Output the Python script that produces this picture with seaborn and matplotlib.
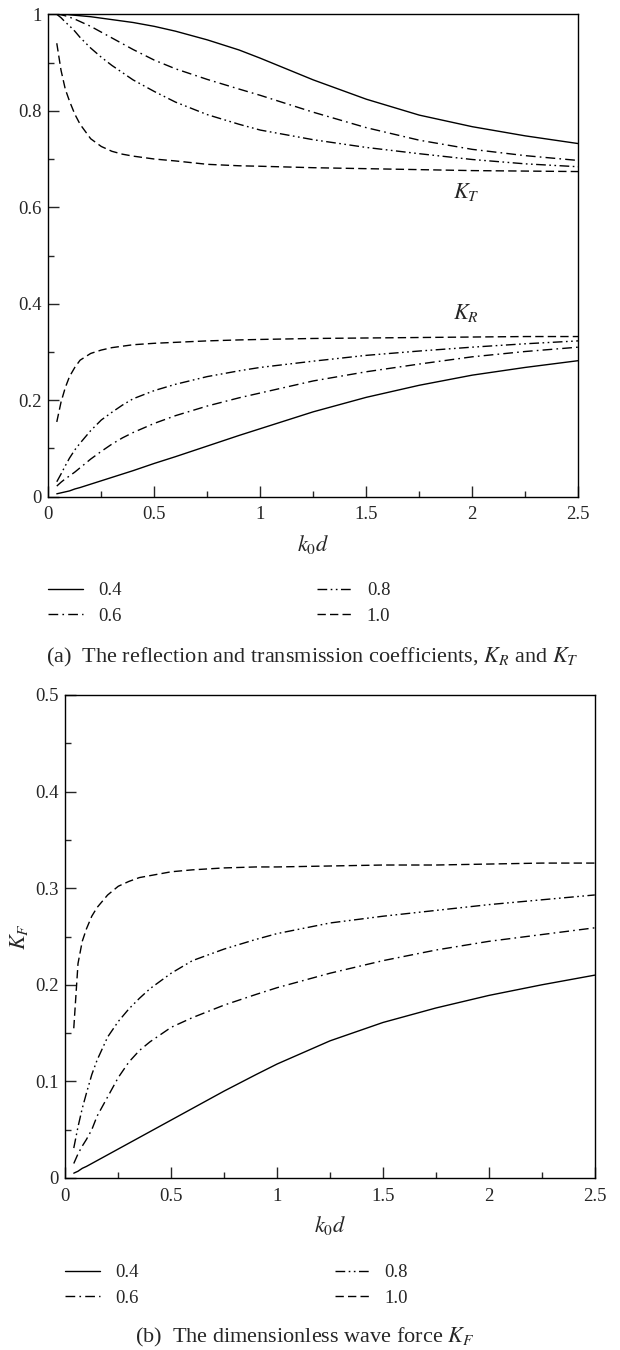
import numpy as np
import pandas as pd
import matplotlib
matplotlib.use("Agg")
import matplotlib.pyplot as plt
from matplotlib.ticker import MultipleLocator, FuncFormatter
from matplotlib.lines import Line2D
import seaborn as sns

# ---------------- data ----------------
k0d = [0.04, 0.06, 0.08, 0.1, 0.125, 0.15, 0.2, 0.25, 0.3, 0.35, 0.4, 0.5,
       0.6, 0.75, 0.9, 1.0, 1.25, 1.5, 1.75, 2.0, 2.25, 2.5]
params = ["0.4", "0.6", "0.8", "1.0"]

KT_04 = [1.0, 1.0, 1.0, 0.999, 0.998, 0.997, 0.995, 0.992, 0.989, 0.986, 0.983,
         0.975, 0.965, 0.947, 0.926, 0.909, 0.864, 0.824, 0.791, 0.767, 0.748, 0.732]
KT_06 = [1.0, 0.999, 0.997, 0.994, 0.99, 0.985, 0.975, 0.963, 0.951, 0.939, 0.927,
         0.905, 0.887, 0.865, 0.845, 0.832, 0.797, 0.765, 0.739, 0.72, 0.707, 0.697]
KT_08 = [1.0, 0.993, 0.984, 0.976, 0.965, 0.952, 0.93, 0.911, 0.894, 0.879, 0.864,
         0.84, 0.818, 0.792, 0.772, 0.76, 0.74, 0.724, 0.711, 0.699, 0.69, 0.684]
KT_10 = [0.94, 0.884, 0.845, 0.82, 0.793, 0.772, 0.742, 0.726, 0.716, 0.71, 0.706,
         0.70, 0.696, 0.689, 0.686, 0.685, 0.682, 0.68, 0.678, 0.676, 0.675, 0.674]

KR_04 = [0.006, 0.008, 0.01, 0.012, 0.016, 0.019, 0.026, 0.033, 0.04, 0.047, 0.054,
         0.069, 0.083, 0.105, 0.127, 0.141, 0.176, 0.206, 0.231, 0.252, 0.268, 0.282]
KR_06 = [0.022, 0.03, 0.037, 0.043, 0.051, 0.06, 0.078, 0.094, 0.109, 0.122, 0.133,
         0.152, 0.168, 0.188, 0.205, 0.215, 0.24, 0.259, 0.275, 0.29, 0.301, 0.31]
KR_08 = [0.031, 0.047, 0.064, 0.08, 0.097, 0.111, 0.137, 0.159, 0.175, 0.19, 0.203,
         0.22, 0.233, 0.249, 0.261, 0.268, 0.281, 0.293, 0.302, 0.31, 0.317, 0.323]
KR_10 = [0.155, 0.196, 0.226, 0.249, 0.268, 0.283, 0.297, 0.304, 0.309, 0.312, 0.315,
         0.318, 0.32, 0.323, 0.325, 0.326, 0.328, 0.329, 0.33, 0.331, 0.332, 0.332]

KF_04 = [0.005, 0.007, 0.01, 0.012, 0.015, 0.018, 0.024, 0.03, 0.036, 0.042, 0.048,
         0.06, 0.072, 0.09, 0.107, 0.118, 0.142, 0.161, 0.176, 0.189, 0.2, 0.21]
KF_06 = [0.015, 0.025, 0.033, 0.04, 0.05, 0.064, 0.084, 0.104, 0.12, 0.132, 0.141,
         0.156, 0.166, 0.179, 0.19, 0.197, 0.212, 0.225, 0.236, 0.245, 0.252, 0.259]
KF_08 = [0.031, 0.053, 0.072, 0.088, 0.107, 0.122, 0.146, 0.162, 0.175, 0.186, 0.196,
         0.212, 0.225, 0.237, 0.247, 0.253, 0.264, 0.271, 0.277, 0.283, 0.288, 0.293]
KF_10 = [0.155, 0.222, 0.245, 0.258, 0.271, 0.28, 0.293, 0.302, 0.307, 0.311, 0.313,
         0.317, 0.319, 0.321, 0.322, 0.322, 0.323, 0.324, 0.324, 0.325, 0.326, 0.326]

# ---------------- style ----------------
sns.set_style("ticks")
plt.rcParams["font.family"] = ["Liberation Serif", "DejaVu Serif"]
plt.rcParams["mathtext.fontset"] = "stix"
plt.rcParams["axes.linewidth"] = 1.0

styles = {
    "0.4": "-",
    "0.6": (0, (7, 3, 1.2, 3)),
    "0.8": (0, (7, 2.5, 1.2, 2.5, 1.2, 2.5)),
    "1.0": (0, (6, 3)),
}

W, H = 620.0, 1350.0
fs = 13.5
fig = plt.figure(figsize=(6.2, 13.5), dpi=100)
ax1 = fig.add_axes([48.3 / W, 1 - 496.7 / H, 530 / W, 482.4 / H])
ax2 = fig.add_axes([65.3 / W, 1 - 1178 / H, 529.5 / W, 483 / H])

fmt = FuncFormatter(lambda v, p: "%g" % round(v, 3))


def draw(ax, series):
    for p, ys in series:
        df = pd.DataFrame({"x": k0d, "y": ys})
        sns.lineplot(data=df, x="x", y="y", ax=ax, color="black",
                     linewidth=1.0, linestyle=styles[p], legend=False)


draw(ax1, [("0.4", KT_04), ("0.6", KT_06), ("0.8", KT_08), ("1.0", KT_10),
           ("0.4", KR_04), ("0.6", KR_06), ("0.8", KR_08), ("1.0", KR_10)])
draw(ax2, [("0.4", KF_04), ("0.6", KF_06), ("0.8", KF_08), ("1.0", KF_10)])

for ax, ymax, ymaj, ymin in [(ax1, 1.0, 0.2, 0.1), (ax2, 0.5, 0.1, 0.05)]:
    ax.set_xlim(0, 2.5)
    ax.set_ylim(0, ymax)
    ax.xaxis.set_major_locator(MultipleLocator(0.5))
    ax.xaxis.set_minor_locator(MultipleLocator(0.25))
    ax.yaxis.set_major_locator(MultipleLocator(ymaj))
    ax.yaxis.set_minor_locator(MultipleLocator(ymin))
    ax.xaxis.set_major_formatter(fmt)
    ax.yaxis.set_major_formatter(fmt)
    ax.tick_params(axis="both", which="both", direction="in", top=False,
                   right=False, width=1.0, labelsize=fs)
    ax.tick_params(axis="both", which="major", length=8)
    ax.tick_params(axis="both", which="minor", length=4.5)
    ax.tick_params(axis="y", which="major", pad=4.5)
    ax.tick_params(axis="x", which="major", pad=7)
    for s in ax.spines.values():
        s.set_visible(True)
        s.set_color("black")
    ax.set_xlabel(r"$k_0d$", fontsize=16, labelpad=7)
    ax.set_ylabel("")

ax2.set_ylabel(r"$K_F$", fontsize=16, labelpad=4)

ax1.text(1.97, 0.632, r"$K_T$", fontsize=16, ha="center", va="center")
ax1.text(1.97, 0.381, r"$K_R$", fontsize=16, ha="center", va="center")

handles = {p: Line2D([], [], color="black", lw=1.0, linestyle=styles[p])
           for p in params}
legend_spec = [
    # (x of first column handle, x of second column handle, y of first row)
    (48.3, 317.2, 582),
    (65.3, 334.9, 1264),
]
for x1, x2, ytop in legend_spec:
    for xc, pair in [(x1, ["0.4", "0.6"]), (x2, ["0.8", "1.0"])]:
        fig.legend([handles[p] for p in pair], pair, loc="upper left",
                   bbox_to_anchor=(xc / W, 1 - ytop / H), ncol=1,
                   frameon=False, fontsize=fs, handlelength=1.85,
                   handletextpad=0.8, labelspacing=0.45,
                   borderpad=0, borderaxespad=0)

fig.text(312 / W, 1 - 657 / H,
         r"(a)  The reflection and transmission coefficients, $K_R$ and $K_T$",
         fontsize=16, ha="center", va="center")
fig.text(305 / W, 1 - 1337 / H, r"(b)  The dimensionless wave force $K_F$",
         fontsize=16, ha="center", va="center")

fig.savefig("out.png", dpi=100)
